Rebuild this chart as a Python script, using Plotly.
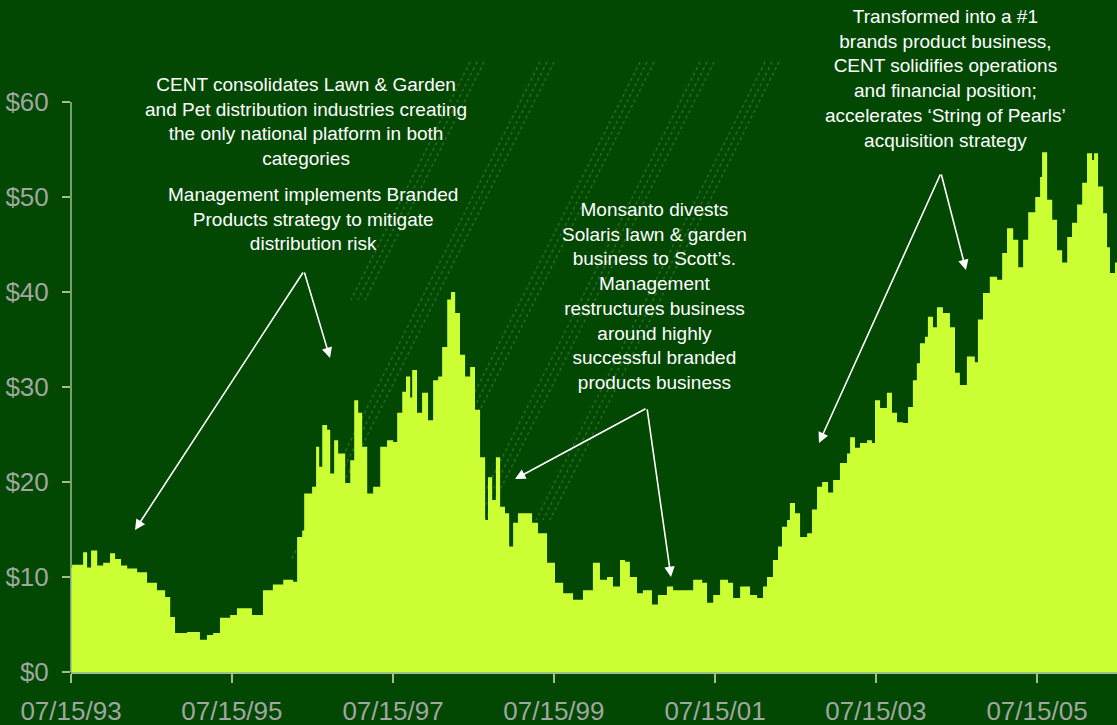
import plotly.graph_objects as go

dates = [
    "1993-07-15", "1993-07-20", "1993-09-08", "1993-09-26", "1993-10-14", "1993-11-11", "1993-12-08",
    "1994-01-08", "1994-01-31", "1994-02-27", "1994-03-27", "1994-05-11", "1994-06-25", "1994-08-09",
    "1994-09-15", "1994-10-08", "1994-10-30", "1994-12-24", "1995-02-20", "1995-03-24", "1995-04-21",
    "1995-05-22", "1995-07-07", "1995-08-07", "1995-08-21", "1995-10-14", "1995-12-03", "1996-01-17",
    "1996-03-04", "1996-04-18", "1996-05-06", "1996-05-29", "1996-06-07", "1996-07-13", "1996-07-31",
    "1996-08-14", "1996-08-28", "1996-09-19", "1996-10-03", "1996-10-21", "1996-11-08", "1996-12-10",
    "1997-01-02", "1997-01-20", "1997-02-07", "1997-02-25", "1997-03-20", "1997-04-16", "1997-05-18",
    "1997-06-18", "1997-07-16", "1997-08-03", "1997-08-26", "1997-09-12", "1997-10-01", "1997-10-10",
    "1997-11-01", "1997-11-24", "1997-12-21", "1998-01-13", "1998-02-05", "1998-02-23", "1998-03-18",
    "1998-04-04", "1998-04-23", "1998-05-15", "1998-06-07", "1998-06-30", "1998-07-22", "1998-08-14",
    "1998-09-06", "1998-09-19", "1998-10-08", "1998-10-25", "1998-11-13", "1998-12-05", "1998-12-24",
    "1999-01-11", "1999-02-02", "1999-03-06", "1999-04-07", "1999-05-04", "1999-06-14", "1999-07-20",
    "1999-08-26", "1999-10-10", "1999-10-28", "1999-11-24", "2000-01-08", "2000-02-09", "2000-03-12",
    "2000-04-08", "2000-05-10", "2000-06-02", "2000-06-24", "2000-07-26", "2000-08-22", "2000-10-02",
    "2000-10-29", "2000-12-09", "2001-01-06", "2001-02-20", "2001-04-07", "2001-05-18", "2001-06-09",
    "2001-07-07", "2001-08-07", "2001-09-12", "2001-10-05", "2001-11-06", "2001-12-21", "2002-01-22",
    "2002-02-18", "2002-03-08", "2002-04-04", "2002-04-27", "2002-05-15", "2002-06-07", "2002-06-20",
    "2002-07-13", "2002-08-05", "2002-09-06", "2002-09-28", "2002-10-21", "2002-11-13", "2002-12-10",
    "2003-01-02", "2003-02-02", "2003-03-06", "2003-03-20", "2003-04-11", "2003-05-04", "2003-06-05",
    "2003-06-27", "2003-07-11", "2003-08-03", "2003-09-03", "2003-09-26", "2003-10-19", "2003-11-15",
    "2003-12-08", "2003-12-30", "2004-01-17", "2004-01-31", "2004-02-23", "2004-03-07", "2004-03-30",
    "2004-04-17", "2004-05-14", "2004-06-15", "2004-07-08", "2004-07-30", "2004-08-31", "2004-10-06",
    "2004-10-20", "2004-11-12", "2004-12-13", "2005-01-15", "2005-02-07", "2005-03-01", "2005-03-29",
    "2005-04-21", "2005-05-13", "2005-06-05", "2005-07-07", "2005-07-29", "2005-08-07", "2005-08-30",
    "2005-09-22", "2005-10-14", "2005-11-06", "2005-11-29", "2005-12-21", "2006-01-13", "2006-02-05",
    "2006-02-27", "2006-03-22", "2006-03-31", "2006-04-18", "2006-05-11", "2006-05-29", "2006-06-11",
    "2006-07-04", "2006-07-13",
]

prices = [
    11.0, 11.3, 12.6, 11.0, 12.8, 11.2, 11.5,
    12.5, 11.9, 11.2, 10.9, 10.5, 9.4, 8.6,
    7.9, 5.8, 4.1, 4.2, 3.4, 3.9, 4.1,
    5.7, 6.0, 6.7, 6.7, 6.0, 8.6, 9.2,
    9.7, 9.5, 14.2, 14.9, 18.8, 19.5, 23.7,
    21.6, 26.0, 25.5, 20.9, 24.4, 23.0, 19.9,
    22.3, 28.6, 27.3, 23.7, 18.8, 19.5, 23.7,
    24.4, 24.2, 27.3, 29.5, 31.1, 28.9, 31.8,
    27.3, 29.4, 26.5, 30.7, 31.1, 34.2, 39.2,
    40.0, 37.8, 33.4, 31.1, 32.1, 27.6, 22.6,
    16.0, 20.5, 18.1, 22.6, 17.4, 16.7, 13.2,
    15.7, 16.7, 16.7, 15.7, 14.6, 11.5, 9.4,
    8.3, 7.6, 7.6, 8.6, 11.5, 9.7, 10.0,
    9.0, 11.8, 11.6, 10.0, 8.3, 8.6, 7.1,
    8.1, 9.0, 8.6, 8.6, 9.7, 9.4, 7.3,
    8.1, 9.7, 9.4, 7.8, 9.0, 8.1, 7.8,
    9.0, 10.0, 11.8, 13.2, 15.3, 16.0, 17.8,
    16.7, 14.2, 14.6, 17.1, 19.5, 20.0, 18.9,
    20.2, 22.0, 23.0, 24.7, 23.6, 24.1, 24.4,
    24.1, 28.6, 27.8, 29.4, 27.3, 26.3, 26.2,
    27.9, 30.7, 32.5, 34.6, 35.3, 37.4, 36.3,
    38.4, 37.8, 36.3, 31.5, 30.2, 33.2, 32.6,
    37.1, 39.9, 41.6, 41.3, 44.1, 46.7, 45.5,
    42.6, 45.5, 48.4, 50.0, 52.1, 54.7, 49.7,
    47.6, 44.4, 43.1, 45.8, 47.3, 49.2, 51.5,
    54.6, 53.9, 54.6, 51.1, 48.3, 44.7, 42.0,
    43.1, 41.5,
]

tick_dates = ["1993-07-15", "1995-07-15", "1997-07-15", "1999-07-15",
              "2001-07-15", "2003-07-15", "2005-07-15"]
tick_text = ["07/15/93", "07/15/95", "07/15/97", "07/15/99",
             "07/15/01", "07/15/03", "07/15/05"]
price_ticks = [0, 10, 20, 30, 40, 50, 60]
price_labels = ["$0", "$10", "$20", "$30", "$40", "$50", "$60"]

BG = "#024802"
FILL = "#ccff33"
AXIS = "#9fbf90"
LABEL = "#a0a6a0"
FONT = "Liberation Sans, Arial, sans-serif"

fig = go.Figure()
fig.add_trace(go.Scatter(
    x=dates, y=prices, mode="lines", line=dict(width=0, shape="hv", color=FILL),
    fill="tozeroy", fillcolor=FILL, hoverinfo="skip", showlegend=False,
))

# decorative dotted diagonal texture behind the area (paper coordinates)
W, H = 1046.0, 672.0
bands = [(470, 300), (540, 560), (640, 600), (700, 600), (765, 520)]  # (top x px, bottom y px)
for top_x, bot_y in bands:
    for off in (0, 7, 14):
        x_top = top_x + off
        x_bot = x_top - (bot_y - 62) / 2.0
        fig.add_shape(type="line", xref="paper", yref="paper", layer="below",
                      x0=(x_top - 71) / W, y0=(672 - 62) / H,
                      x1=(x_bot - 71) / W, y1=(672 - bot_y) / H,
                      line=dict(color="rgba(130,195,100,0.3)", width=1.5, dash="dot"))

# y axis line from $0 to $60 only
fig.add_shape(type="line", xref="paper", yref="y", x0=0, x1=0, y0=0, y1=60,
              line=dict(color=AXIS, width=1.5), layer="above")

notes = [
    ("CENT consolidates Lawn &amp; Garden<br>and Pet distribution industries creating"
     "<br>the only national platform in both<br>categories", 0.2247, 0.8192),
    ("Management implements Branded<br>Products strategy to mitigate<br>distribution risk",
     0.2314, 0.6734),
    ("Monsanto divests<br>Solaris lawn &amp; garden<br>business to Scott\u2019s.<br>Management"
     "<br>restructures business<br>around highly<br>successful branded<br>products business",
     0.5574, 0.5588),
    ("Transformed into a #1<br>brands product business,<br>CENT solidifies operations"
     "<br>and financial position;<br>accelerates \u2018String of Pearls\u2019<br>acquisition strategy",
     0.8365, 0.8839),
]
for text, x, y in notes:
    fig.add_annotation(text=text, xref="paper", yref="paper", x=x, y=y,
                       xanchor="center", yanchor="middle", showarrow=False,
                       font=dict(family=FONT, size=19, color="white"), align="center")

arrows = [
    (0.0612, 0.2113, 169, -259),
    (0.2476, 0.4673, -26, -87),
    (0.4245, 0.2872, 132, -71),
    (0.5736, 0.1414, -24, -169),
    (0.7151, 0.3408, 122, -270),
    (0.8556, 0.5982, -25, -97),
]
for x, y, ax, ay in arrows:
    fig.add_annotation(text="", xref="paper", yref="paper", x=x, y=y,
                       axref="pixel", ayref="pixel", ax=ax, ay=ay,
                       showarrow=True, arrowhead=2, arrowsize=1.3, arrowwidth=1.6,
                       arrowcolor="white")

fig.update_layout(
    width=1117, height=725,
    margin=dict(l=71, r=0, t=0, b=53),
    paper_bgcolor=BG, plot_bgcolor=BG,
    showlegend=False,
    xaxis=dict(
        type="date", range=["1993-07-15", "2006-07-13"],
        tickvals=tick_dates, ticktext=tick_text,
        showgrid=False, zeroline=False, showline=True, linecolor=AXIS, linewidth=1.5,
        ticks="outside", ticklen=9, tickcolor=AXIS, tickwidth=1.5,
        tickfont=dict(family=FONT, size=26, color=LABEL),
        ticklabelstandoff=6,
    ),
    yaxis=dict(
        range=[0, 70.74], tickvals=price_ticks, ticktext=price_labels,
        showgrid=False, zeroline=False, showline=False,
        ticks="outside", ticklen=8, tickcolor=AXIS, tickwidth=1.5,
        tickfont=dict(family=FONT, size=26, color=LABEL),
        ticklabelstandoff=8,
    ),
)

fig.write_html("out.html")
